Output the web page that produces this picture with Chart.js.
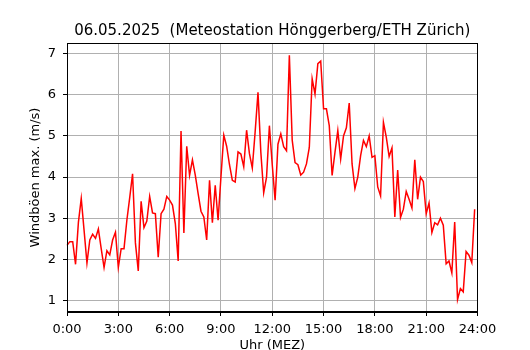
<!DOCTYPE html>
<html>
<head>
<meta charset="utf-8">
<script src="https://cdn.jsdelivr.net/npm/chart.js@4/dist/chart.umd.min.js"></script>
<style>
  html, body { margin: 0; padding: 0; background: #ffffff; }
  #wrap { width: 530px; height: 350px; }
</style>
</head>
<body>
<div id="wrap"><canvas id="gustChart" width="530" height="350"></canvas></div>
<script>
// Wind gusts, 10-minute values, 06.05.2025
var chartTitle = "06.05.2025  (Meteostation Hönggerberg/ETH Zürich)";
var xAxisTitle = "Uhr (MEZ)";
var yAxisTitle = "Windböen max. (m/s)";

var gustValues = [
  2.34, 2.43, 2.43, 1.88, 2.90, 3.48, 2.70, 1.91, 2.47, 2.61, 2.51, 2.74,
  2.26, 1.80, 2.21, 2.11, 2.47, 2.66, 1.80, 2.26, 2.26, 2.95, 3.50, 4.08,
  2.40, 1.72, 3.41, 2.77, 2.93, 3.53, 3.13, 3.11, 2.05, 3.11, 3.22, 3.53,
  3.44, 3.32, 2.87, 1.96, 5.12, 2.64, 4.75, 4.04, 4.42, 4.05, 3.60, 3.17,
  3.03, 2.47, 3.92, 2.89, 3.80, 2.95, 4.00, 5.02, 4.75, 4.30, 3.92, 3.88,
  4.61, 4.56, 4.25, 5.14, 4.57, 4.22, 5.10, 6.06, 4.60, 3.62, 4.00, 5.25,
  4.30, 3.44, 4.80, 5.05, 4.74, 4.64, 6.96, 4.90, 4.35, 4.30, 4.05, 4.12,
  4.32, 4.72, 6.39, 6.02, 6.76, 6.82, 5.66, 5.66, 5.25, 4.04, 4.60, 5.13,
  4.44, 5.00, 5.20, 5.80, 4.32, 3.72, 4.00, 4.52, 4.89, 4.74, 5.00, 4.48,
  4.52, 3.76, 3.54, 5.33, 4.97, 4.50, 4.71, 3.03, 4.17, 3.02, 3.22, 3.65,
  3.46, 3.25, 4.42, 3.46, 4.00, 3.89, 3.11, 3.37, 2.65, 2.89, 2.84, 3.00,
  2.83, 1.89, 1.96, 1.67, 2.91, 1.02, 1.29, 1.21, 2.19, 2.10, 1.92, 3.22
];

var yTicks = [1, 2, 3, 4, 5, 6, 7];
var xTickLabels = ["0:00", "3:00", "6:00", "9:00", "12:00", "15:00", "18:00", "21:00", "24:00"];
var yMin = 0.72;
var yMax = 7.26;

// category labels: 0:00 .. 24:00 in 10 minute steps
var timeLabels = [];
for (var h = 0; h <= 24; h++) {
  for (var m = 0; m < 60; m += 10) {
    if (h === 24 && m > 0) break;
    timeLabels.push(h + ":" + (m < 10 ? "0" + m : m));
  }
}

var fontFamily = '"DejaVu Sans", sans-serif';

// matplotlib-like frame and title
var framePlugin = {
  id: 'framePlugin',
  afterDraw: function(chart) {
    var ctx = chart.ctx;
    var a = chart.chartArea;
    ctx.save();
    ctx.strokeStyle = '#000000';
    ctx.lineWidth = 1;
    ctx.strokeRect(Math.round(a.left) + 0.5, Math.round(a.top) + 0.5,
      Math.round(a.right - a.left) - 1, Math.round(a.bottom - a.top) - 1);
    ctx.fillStyle = '#000000';
    ctx.font = '15px ' + fontFamily;
    ctx.textAlign = 'center';
    ctx.textBaseline = 'alphabetic';
    ctx.fillText(chartTitle, (a.left + a.right) / 2, 34.5);
    ctx.restore();
  }
};

function createChart() {
  var ctx = document.getElementById('gustChart');
  new Chart(ctx, {
    type: 'line',
    data: {
      labels: timeLabels,
      datasets: [{
        label: 'Windböen',
        data: gustValues,
        borderColor: '#ff0000',
        borderWidth: 1.5,
        pointRadius: 0,
        tension: 0,
        fill: false
      }]
    },
    options: {
      responsive: false,
      animation: false,
      devicePixelRatio: 1,
      layout: { padding: { top: 43, right: 52.5, left: 0, bottom: 0 } },
      plugins: {
        legend: { display: false },
        tooltip: { enabled: false },
        title: { display: false }
      },
      scales: {
        x: {
          type: 'category',
          offset: false,
          afterFit: function(scale) { scale.height = 38; },
          grid: { color: '#b0b0b0', lineWidth: 1, tickColor: '#000000', tickLength: 4, drawTicks: true },
          border: { display: true, color: '#000000', width: 1 },
          ticks: {
            autoSkip: false,
            maxRotation: 0,
            padding: 6,
            color: '#000000',
            font: { family: fontFamily, size: 13 },
            callback: function(val, index) {
              if (index % 18 === 0) return xTickLabels[index / 18];
              return null;
            }
          },
          title: {
            display: true,
            text: xAxisTitle,
            color: '#000000',
            font: { family: fontFamily, size: 13, lineHeight: 0.7 },
            padding: { top: 0, bottom: 0 }
          }
        },
        y: {
          type: 'linear',
          min: yMin,
          max: yMax,
          afterFit: function(scale) { scale.width = 67; },
          afterBuildTicks: function(scale) {
            scale.ticks = yTicks.map(function(v) { return { value: v }; });
          },
          grid: { color: '#b0b0b0', lineWidth: 1, tickColor: '#000000', tickLength: 4 },
          border: { display: true, color: '#000000', width: 1 },
          ticks: {
            padding: 7,
            color: '#000000',
            font: { family: fontFamily, size: 13 }
          },
          title: {
            display: true,
            text: yAxisTitle,
            color: '#000000',
            font: { family: fontFamily, size: 13, lineHeight: 1 },
            padding: { top: 29.5, bottom: 0 }
          }
        }
      }
    },
    plugins: [framePlugin]
  });
}

document.addEventListener('DOMContentLoaded', function() {
  createChart();
});
</script>
</body>
</html>
